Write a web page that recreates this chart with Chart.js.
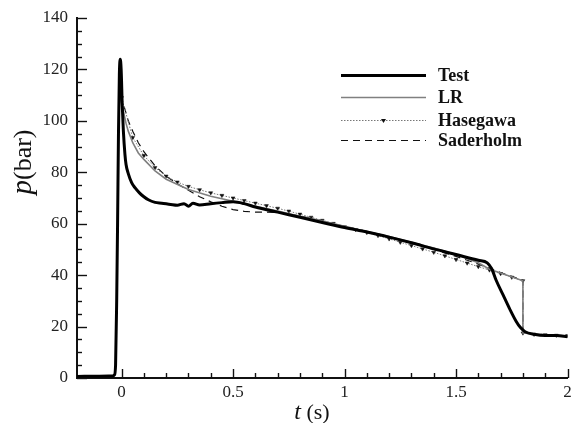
<!DOCTYPE html>
<html>
<head>
<meta charset="utf-8">
<script src="https://cdn.jsdelivr.net/npm/chart.js@4/dist/chart.umd.min.js"></script>
<style>
  html, body { margin: 0; padding: 0; background: #fff; }
  #wrap { width: 572px; height: 423px; }
</style>
</head>
<body>
<div id="wrap"><canvas id="chart" width="572" height="423"></canvas></div>
<script>
// --- data ---
const testT = [-0.2, -0.1, -0.04, -0.032, -0.027, -0.022, -0.018, -0.014, -0.01, -0.006, -0.002, 0.003, 0.008, 0.015, 0.02, 0.03, 0.045, 0.06, 0.08, 0.1, 0.12, 0.15, 0.18, 0.22, 0.25, 0.28, 0.3, 0.32, 0.35, 0.4, 0.45, 0.5, 0.55, 0.6, 0.7, 0.8, 0.9, 1.0, 1.1, 1.2, 1.3, 1.4, 1.5, 1.6, 1.64, 1.66, 1.68, 1.71, 1.74, 1.77, 1.79, 1.81, 1.85, 1.9, 1.95, 2.0];
const testP = [0.6, 0.7, 0.8, 1.2, 5, 30, 60, 95, 118, 124, 120, 106, 96, 87, 83, 79.5, 76, 74, 72, 70.5, 69.3, 68.3, 68, 67.5, 67.2, 67.8, 66.8, 68, 67.3, 67.8, 68.2, 68.5, 67.8, 66.5, 64.5, 62.5, 60.5, 58.5, 56.8, 54.8, 52.6, 50.2, 48, 45.8, 44.8, 42.5, 38, 32.5, 27, 22, 19.5, 18, 17, 16.5, 16.5, 16];

const lrT = [-0.005, 0.01, 0.02, 0.03, 0.05, 0.075, 0.1, 0.15, 0.2, 0.3, 0.4, 0.5, 0.6, 0.7, 0.8, 0.9, 1.0, 1.1, 1.2, 1.3, 1.4, 1.5, 1.6, 1.65, 1.7, 1.8, 1.8, 1.9, 2.0];
const lrP = [109, 103, 99, 96, 91.5, 87.5, 85, 80.5, 77.3, 73.3, 70.7, 68.7, 66.8, 64.9, 62.9, 61, 59, 57, 55, 52.8, 50.5, 48, 44.8, 42.3, 40.8, 37.8, 17.5, 16.8, 16.3];

const hasT = [0, 0.05, 0.1, 0.15, 0.2, 0.25, 0.3, 0.35, 0.4, 0.45, 0.5, 0.55, 0.6, 0.65, 0.7, 0.75, 0.8, 0.85, 0.9, 0.95, 1.0, 1.05, 1.1, 1.15, 1.2, 1.25, 1.3, 1.35, 1.4, 1.45, 1.5, 1.55, 1.6, 1.65, 1.7, 1.75, 1.8, 1.8, 1.85, 1.9, 1.95, 2.0];
const hasP = [109, 93.5, 86.5, 81.8, 78.5, 76.2, 74.5, 73.2, 72, 71, 70, 69, 68, 67, 66, 64.9, 63.7, 62.5, 61.3, 60.1, 58.8, 57.7, 56.6, 55.4, 54.1, 52.8, 51.5, 50.2, 48.9, 47.5, 46.1, 44.7, 43.3, 42, 40.6, 39.2, 37.8, 17.5, 17, 16.8, 16.6, 16.5];

const sadT = [-0.005, 0.01, 0.02, 0.03, 0.05, 0.075, 0.1, 0.15, 0.2, 0.25, 0.3, 0.35, 0.4, 0.45, 0.5, 0.55, 0.6, 0.65, 0.7, 0.8, 0.9, 1.0, 1.1, 1.2, 1.3, 1.4, 1.5, 1.6, 1.7, 1.8, 1.8, 1.9, 2.0];
const sadP = [110, 106, 103, 100, 96, 91.5, 88, 82.5, 78.5, 75.5, 73, 70.5, 68.5, 66.8, 65.5, 64.8, 64.5, 64.5, 64.3, 63, 61, 59, 57, 54.8, 52.5, 50, 47.3, 44.3, 41, 38, 17.5, 16.8, 16.3];

const xTickValues = [0, 0.5, 1, 1.5, 2];
const legendLabels = ['Test', 'LR', 'Hasegawa', 'Saderholm'];

const toPoints = (ts, ps) => ts.map((t, i) => ({ x: t, y: ps[i] }));
const SERIF = '"Liberation Serif", "DejaVu Serif", serif';

// ticks drawn inward, legend and axis titles
const decorations = {
    id: 'decorations',
    afterDraw(chart) {
        const ctx = chart.ctx;
        const xs = chart.scales.x, ys = chart.scales.y;
        const area = chart.chartArea;
        ctx.save();
        ctx.strokeStyle = '#111';
        ctx.lineWidth = 1.4;
        // y ticks
        for (let v = 0; v <= 140; v += 5) {
            const y = Math.round(ys.getPixelForValue(v)) + 0.5;
            const len = v % 20 === 0 ? 10 : 5;
            ctx.beginPath();
            ctx.moveTo(area.left, y);
            ctx.lineTo(area.left + len, y);
            ctx.stroke();
        }
        // x ticks
        for (let i = 0; i <= 20; i++) {
            const v = i / 10;
            const x = Math.round(xs.getPixelForValue(v)) + 0.5;
            const len = i % 5 === 0 ? 9 : 5;
            ctx.beginPath();
            ctx.moveTo(x, area.bottom);
            ctx.lineTo(x, area.bottom - len);
            ctx.stroke();
        }

        // legend
        const ds = chart.data.datasets;
        const lx0 = 341, lx1 = 426, tx = 438;
        const rows = [75, 97, 120, 140];
        ctx.font = 'bold 18px ' + SERIF;
        ctx.textBaseline = 'middle';
        ctx.fillStyle = '#111';
        rows.forEach((ry, i) => {
            const d = ds[i];
            ctx.save();
            ctx.strokeStyle = d.borderColor;
            ctx.lineWidth = d.borderWidth;
            ctx.setLineDash(d.borderDash || []);
            ctx.beginPath();
            ctx.moveTo(lx0, ry + 0.5);
            ctx.lineTo(lx1, ry + 0.5);
            ctx.stroke();
            ctx.restore();
            if (d.label === 'Hasegawa') {
                const mx = (lx0 + lx1) / 2;
                ctx.beginPath();
                ctx.moveTo(mx - 2.5, ry - 1);
                ctx.lineTo(mx + 2.5, ry - 1);
                ctx.lineTo(mx, ry + 3);
                ctx.closePath();
                ctx.fill();
            }
            ctx.fillText(legendLabels[i], tx, ry + 1);
        });

        // axis titles
        ctx.fillStyle = '#111';
        ctx.textBaseline = 'alphabetic';
        ctx.save();
        ctx.translate(31, 162);
        ctx.rotate(-Math.PI / 2);
        ctx.font = 'italic 29px ' + SERIF;
        const pw = ctx.measureText('p').width;
        ctx.font = '26px ' + SERIF;
        const bw = ctx.measureText('(bar)').width;
        let sx = -(pw + bw) / 2;
        ctx.font = 'italic 29px ' + SERIF;
        ctx.fillText('p', sx, 0);
        ctx.font = '26px ' + SERIF;
        ctx.fillText('(bar)', sx + pw, 0);
        ctx.restore();

        ctx.font = 'italic 24px ' + SERIF;
        const tw = ctx.measureText('t').width;
        ctx.font = '22px ' + SERIF;
        const sw = ctx.measureText(' (s)').width;
        sx = 312 - (tw + sw) / 2;
        ctx.font = 'italic 24px ' + SERIF;
        ctx.fillText('t', sx, 419);
        ctx.font = '22px ' + SERIF;
        ctx.fillText(' (s)', sx + tw, 419);
        ctx.restore();
    }
};

const ctx = document.getElementById('chart').getContext('2d');
new Chart(ctx, {
    type: 'line',
    data: {
        datasets: [
            { label: 'Test', data: toPoints(testT, testP), borderColor: '#000', borderWidth: 3, pointRadius: 0, cubicInterpolationMode: 'monotone' },
            { label: 'LR', data: toPoints(lrT, lrP), borderColor: '#808080', borderWidth: 1.6, pointRadius: 0, tension: 0 },
            { label: 'Hasegawa', data: toPoints(hasT, hasP), borderColor: '#777', borderWidth: 1, borderDash: [1.5, 1.5], tension: 0,
              pointStyle: 'triangle', rotation: 180, pointRadius: 2.2, pointBackgroundColor: '#111', pointBorderColor: '#111', pointBorderWidth: 0.5 },
            { label: 'Saderholm', data: toPoints(sadT, sadP), borderColor: '#111', borderWidth: 1.2, borderDash: [7, 5], pointRadius: 0, tension: 0 }
        ]
    },
    options: {
        responsive: false,
        animation: false,
        layout: { padding: { top: 18, right: 1, left: 0, bottom: 0 } },
        plugins: { legend: { display: false }, tooltip: { enabled: false } },
        scales: {
            x: {
                type: 'linear', min: -0.2, max: 2,
                afterBuildTicks: (s) => { s.ticks = xTickValues.map(v => ({ value: v })); },
                afterFit: (s) => { s.height = 45; s.paddingLeft = 0; s.paddingRight = 0; },
                grid: { display: false, drawTicks: false },
                border: { display: true, color: '#111', width: 2 },
                ticks: { padding: 4, color: '#222', font: { family: SERIF, size: 17 }, maxRotation: 0, callback: (v) => String(v) }
            },
            y: {
                min: 0, max: 140,
                afterFit: (s) => { s.width = 77; s.paddingTop = 0; s.paddingBottom = 0; },
                grid: { display: false, drawTicks: false },
                border: { display: true, color: '#111', width: 2 },
                ticks: { stepSize: 20, padding: 9, color: '#222', font: { family: SERIF, size: 17 } }
            }
        }
    },
    plugins: [decorations]
});
</script>
</body>
</html>
